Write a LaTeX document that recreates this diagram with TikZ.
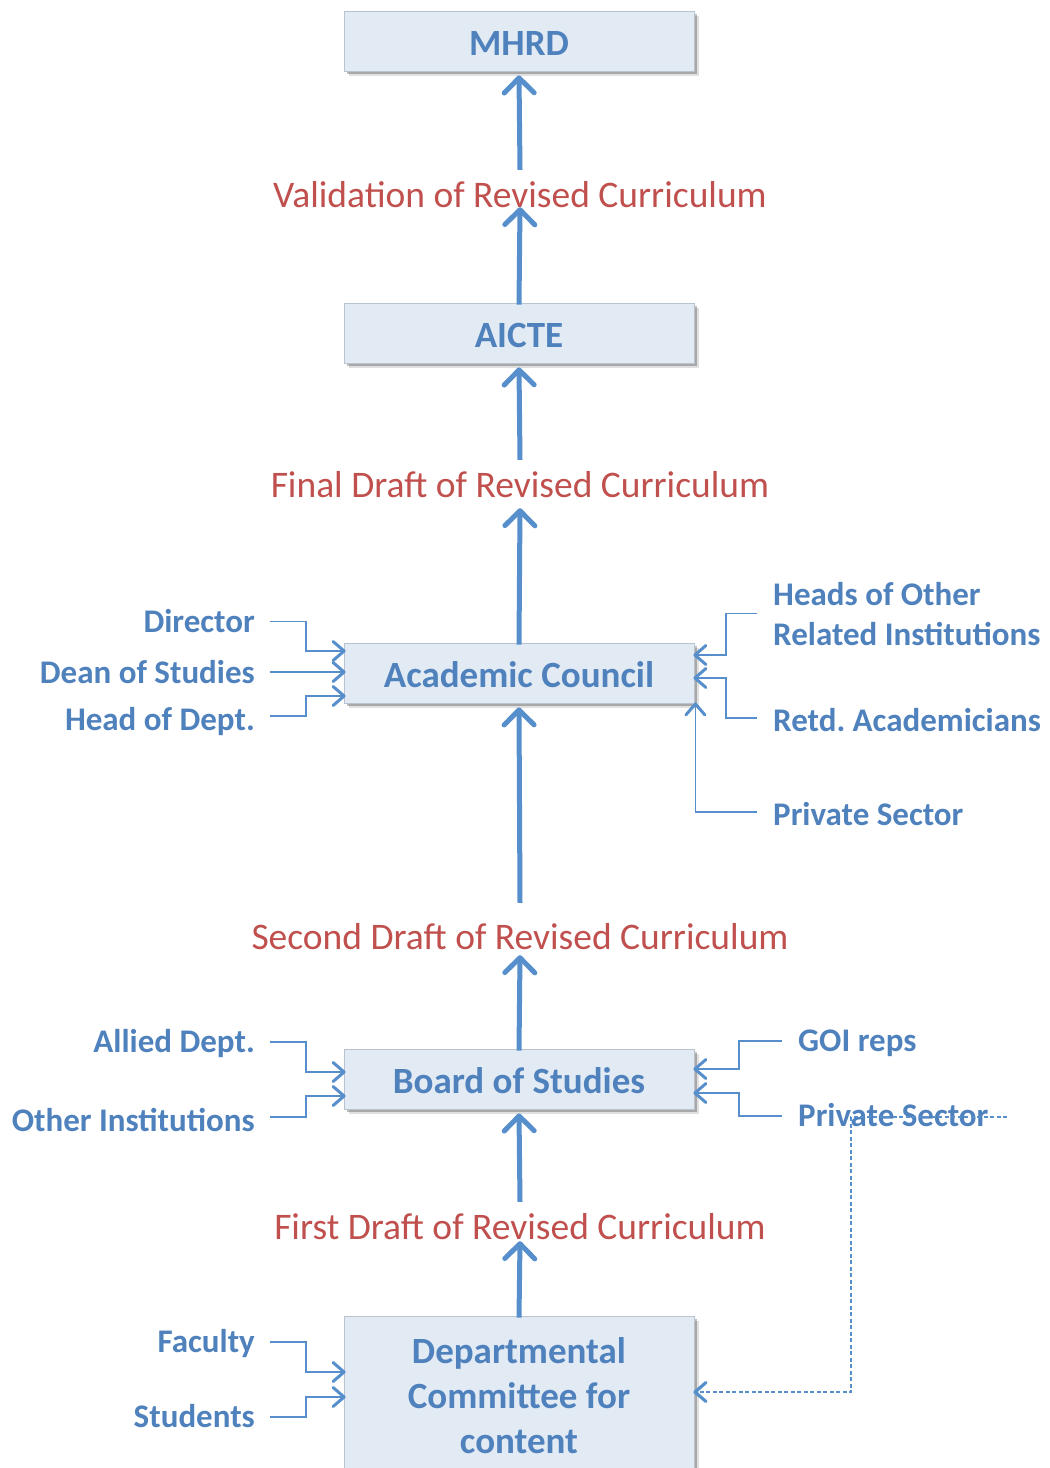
\documentclass[tikz,border=0pt]{standalone}
\usepackage{fontspec}
\setmainfont{Carlito}
\usetikzlibrary{arrows.meta,shadows}
\definecolor{txtblue}{RGB}{79,129,189}
\definecolor{txtred}{RGB}{192,80,77}
\definecolor{arrblue}{RGB}{86,143,204}
\definecolor{boxfill}{RGB}{226,234,244}
\definecolor{boxline}{RGB}{185,195,208}
\frenchspacing
\begin{document}
\begin{tikzpicture}[x=1pt,y=-1pt,
  shadowed/.style={drop shadow={shadow xshift=5pt,shadow yshift=-5pt,opacity=0.12,fill=black},
                   drop shadow={shadow xshift=3pt,shadow yshift=-3pt,opacity=0.25,fill=black}},
  box/.style={shadowed,draw=boxline, line width=0.8pt, fill=boxfill, minimum width=350pt,
              minimum height=60pt, inner sep=0pt, font=\fontsize{37}{45}\selectfont\bfseries,
              text=txtblue, text height=28pt, text depth=0pt},
  bigbox/.style={shadowed,draw=boxline, line width=0.8pt, fill=boxfill, minimum width=350pt,
              minimum height=160pt, inner sep=0pt, font=\fontsize{37}{45}\selectfont\bfseries,
              text=txtblue, align=center},
  draft/.style={font=\fontsize{37.5}{45}\selectfont, text=txtred, inner sep=0pt, anchor=base,
                text height=27pt, text depth=0pt},
  lbl/.style={font=\fontsize{33}{40}\selectfont\bfseries, text=txtblue, inner sep=0pt,
              text height=21.25pt, text depth=0pt},
  lbltwo/.style={font=\fontsize{33}{40}\selectfont\bfseries, text=txtblue, inner sep=0pt, align=left},
  big/.style={draw=arrblue, line width=5pt,
              -{Straight Barb[length=15pt,width=30pt,line width=5pt,round]}},
  conn/.style={draw=arrblue, line width=1.3pt,
              -{Straight Barb[length=11pt,width=19pt,line width=3pt,round]}},
  dconn/.style={draw=arrblue, line width=1.2pt, dash pattern=on 4pt off 2.5pt,
              -{Straight Barb[length=11pt,width=19pt,line width=3.2pt,round]}},
]
\useasboundingbox (0,0) rectangle (1050,1468);
\clip (0,0) rectangle (1050,1468);

% boxes
\node[box] (mhrd) at (519,41) {MHRD};
\node[box] (aicte) at (519,333) {AICTE};
\node[box] (ac) at (519,673) {Academic Council};
\node[box] (bos) at (519,1079) {Board of Studies};
\node[bigbox] (dc) at (519,1396) {Departmental\\Committee for\\content};

% drafts
\node[draft] (v) at (520,207) {Validation of Revised Curriculum};
\node[draft] (fin) at (520,497) {Final Draft of Revised Curriculum};
\node[draft] (sec) at (520,949) {Second Draft of Revised Curriculum};
\node[draft] (fst) at (520,1239) {First Draft of Revised Curriculum};

% main arrows
\draw[big] ([yshift=10pt]v.north) -- ([yshift=-4pt]mhrd.south);
\draw[big] ([yshift=-2pt]aicte.north) -- (v.south);
\draw[big] ([yshift=10pt]fin.north) -- ([yshift=-4pt]aicte.south);
\draw[big] ([yshift=-2pt]ac.north) -- ([yshift=-11pt]fin.south);
\draw[big] ([yshift=19pt]sec.north) -- ([yshift=-4pt]ac.south);
\draw[big] ([yshift=-2pt]bos.north) -- ([yshift=-6pt]sec.south);
\draw[big] ([yshift=10pt]fst.north) -- ([yshift=-4pt]bos.south);
\draw[big] ([yshift=-2pt]dc.north) -- ([yshift=-2pt]fst.south);

% Academic council inputs
\node[lbl, anchor=east] (dir) at (255,621.7) {Director};
\node[lbl, anchor=east] (dean) at (255,673) {Dean of Studies};
\node[lbl, anchor=east] (hod) at (255,720) {Head of Dept.};
\draw[conn] ([xshift=15pt]dir.east) -- ++(36,0) |- ([xshift=2pt,yshift=22pt]ac.west);
\draw[conn] ([xshift=15pt,yshift=1pt]dean.east) -- ([xshift=2pt,yshift=1pt]ac.west);
\draw[conn] ([xshift=15pt,yshift=4pt]hod.east) -- ++(36,0) |- ([xshift=2pt,yshift=-23pt]ac.west);

\node[lbltwo, anchor=west] (heads) at (773,614.3) {Heads of Other\\Related Institutions};
\node[lbl, anchor=west] (retd) at (773,721) {Retd. Academicians};
\node[lbl, anchor=west] (privac) at (773,815) {Private Sector};
\draw[conn] ([xshift=-16pt,yshift=1pt]heads.west) -- ++(-31,0) |- ([xshift=-1pt,yshift=18pt]ac.east);
\draw[conn] ([xshift=-16pt,yshift=3pt]retd.west) -- ++(-31,0) |- ([xshift=-1pt,yshift=-5pt]ac.east);
\draw[conn] ([xshift=-16pt,yshift=3pt]privac.west) -| ([xshift=1pt,yshift=1pt]ac.south east);

% Board of studies inputs
\node[lbl, anchor=east] (allied) at (255,1042) {Allied Dept.};
\node[lbl, anchor=east] (other) at (255,1121) {Other Institutions};
\draw[conn] ([xshift=15pt]allied.east) -- ++(36,0) |- ([xshift=2pt,yshift=7pt]bos.west);
\draw[conn] ([xshift=15pt,yshift=4pt]other.east) -- ++(36,0) |- ([xshift=2pt,yshift=-17pt]bos.west);

\node[lbl, anchor=west] (goi) at (798,1041) {GOI reps};
\node[lbl, anchor=west] (privbos) at (798,1116) {Private Sector};
\draw[conn] ([xshift=-16pt]goi.west) -- ++(-43,0) |- ([xshift=-1pt,yshift=10pt]bos.east);
\draw[conn] ([xshift=-16pt]privbos.west) -- ++(-43,0) |- ([xshift=-1pt,yshift=-14pt]bos.east);

% dashed link
\coordinate (dstart) at (1007,1117);
\draw[dconn] (dstart) -- ++(-156,0) |- ([xshift=-1pt,yshift=4pt]dc.east);

% Departmental committee inputs
\node[lbl, anchor=east] (fac) at (255,1342) {Faculty};
\node[lbl, anchor=east] (stu) at (255,1417) {Students};
\draw[conn] ([xshift=15pt]fac.east) -- ++(36,0) |- ([xshift=2pt,yshift=24pt]dc.west);
\draw[conn] ([xshift=15pt]stu.east) -- ++(36,0) |- ([xshift=2pt,yshift=-1pt]dc.west);
\end{tikzpicture}
\end{document}
